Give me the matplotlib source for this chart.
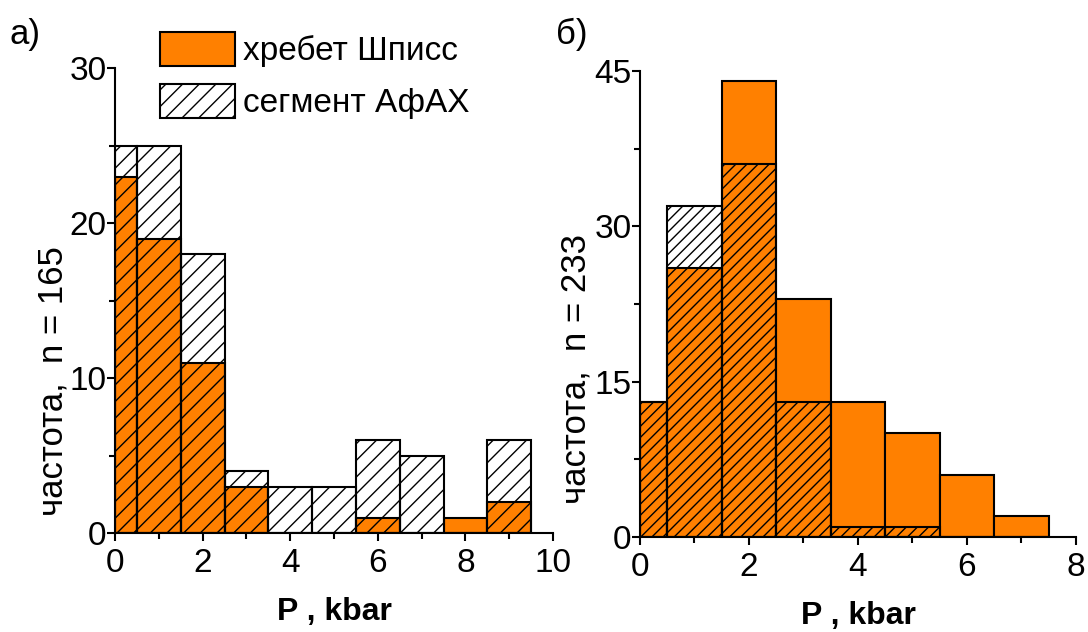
import numpy as np
import matplotlib
matplotlib.use("Agg")
from matplotlib import pyplot as plt
from matplotlib.patches import Patch

plt.rcParams["font.family"] = ["Liberation Sans", "DejaVu Sans"]
plt.rcParams["hatch.linewidth"] = 1.0

# left panel (a)
edges_a = [0, 0.5, 1.5, 2.5, 3.5, 4.5, 5.5, 6.5, 7.5, 8.5, 9.5]
spiss_a = [23, 19, 11, 3, 0, 0, 1, 0, 1, 2]
afah_a = [25, 25, 18, 4, 3, 3, 6, 5, 0, 6]

# right panel (б)
edges_b = [0, 0.5, 1.5, 2.5, 3.5, 4.5, 5.5, 6.5, 7.5]
spiss_b = [13, 26, 44, 23, 13, 10, 6, 2]
afah_b = [13, 32, 36, 13, 1, 1, 0, 0]

orange = "#FF8000"

fig = plt.figure(figsize=(10.88, 6.32), dpi=100)
ax1 = fig.add_axes([0.1057, 0.1566, 0.4026, 0.7358])
ax2 = fig.add_axes([0.5882, 0.1505, 0.4007, 0.7373])


def draw(ax, edges, s, a, hatch):
    left = np.array(edges[:-1])
    w = np.diff(edges)
    ax.bar(left, s, width=w, align="edge", color=orange, edgecolor="black", linewidth=1.5)
    ax.bar(left, a, width=w, align="edge", facecolor="none", edgecolor="black",
           hatch=hatch, linewidth=1.5)
    for sp in ["top", "right"]:
        ax.spines[sp].set_visible(False)
    ax.spines["left"].set_linewidth(1.5)
    ax.spines["bottom"].set_linewidth(1.5)
    ax.tick_params(which="major", direction="out", length=6, width=1.5, labelsize=24)
    ax.tick_params(axis="y", which="major", pad=0)
    ax.tick_params(axis="x", which="major", pad=5)
    ax.tick_params(which="minor", direction="out", length=4, width=1.5)
    ax.set_xlabel("P , kbar", fontsize=23, fontweight="bold", labelpad=13)


draw(ax1, edges_a, spiss_a, afah_a, "//")
ax1.set_xlim(0, 10)
ax1.set_ylim(0, 30)
ax1.set_xticks([0, 2, 4, 6, 8, 10])
ax1.set_xticks([1, 3, 5, 7, 9], minor=True)
ax1.set_yticks([0, 10, 20, 30])
ax1.set_yticks([5, 15, 25], minor=True)
ax1.set_ylabel("частота,  n = 165", fontsize=25)
ax1.yaxis.set_label_coords(-0.103, 0.327)

draw(ax2, edges_b, spiss_b, afah_b, "///")
ax2.set_xlim(0, 8)
ax2.set_ylim(0, 45)
ax2.set_xticks([0, 2, 4, 6, 8])
ax2.set_xticks([1, 3, 5, 7], minor=True)
ax2.set_yticks([0, 15, 30, 45])
ax2.set_yticks([7.5, 22.5, 37.5], minor=True)
ax2.set_ylabel("частота,  n = 233", fontsize=25)
ax2.yaxis.set_label_coords(-0.108, 0.36)

handles = [Patch(facecolor=orange, edgecolor="black", linewidth=1.5),
           Patch(facecolor="white", edgecolor="black", hatch="//", linewidth=1.5)]
fig.legend(handles, ["хребет Шписс", "сегмент АфАХ"], loc="upper left",
           bbox_to_anchor=(0.147, 0.95), frameon=False, fontsize=24,
           handlelength=2.25, handleheight=1.2, handletextpad=0.25, labelspacing=0.5,
           borderpad=0, borderaxespad=0)

fig.text(0.009, 0.945, "а)", fontsize=25, va="center")
fig.text(0.511, 0.945, "б)", fontsize=25, va="center")

fig.savefig("out.png", dpi=100)
